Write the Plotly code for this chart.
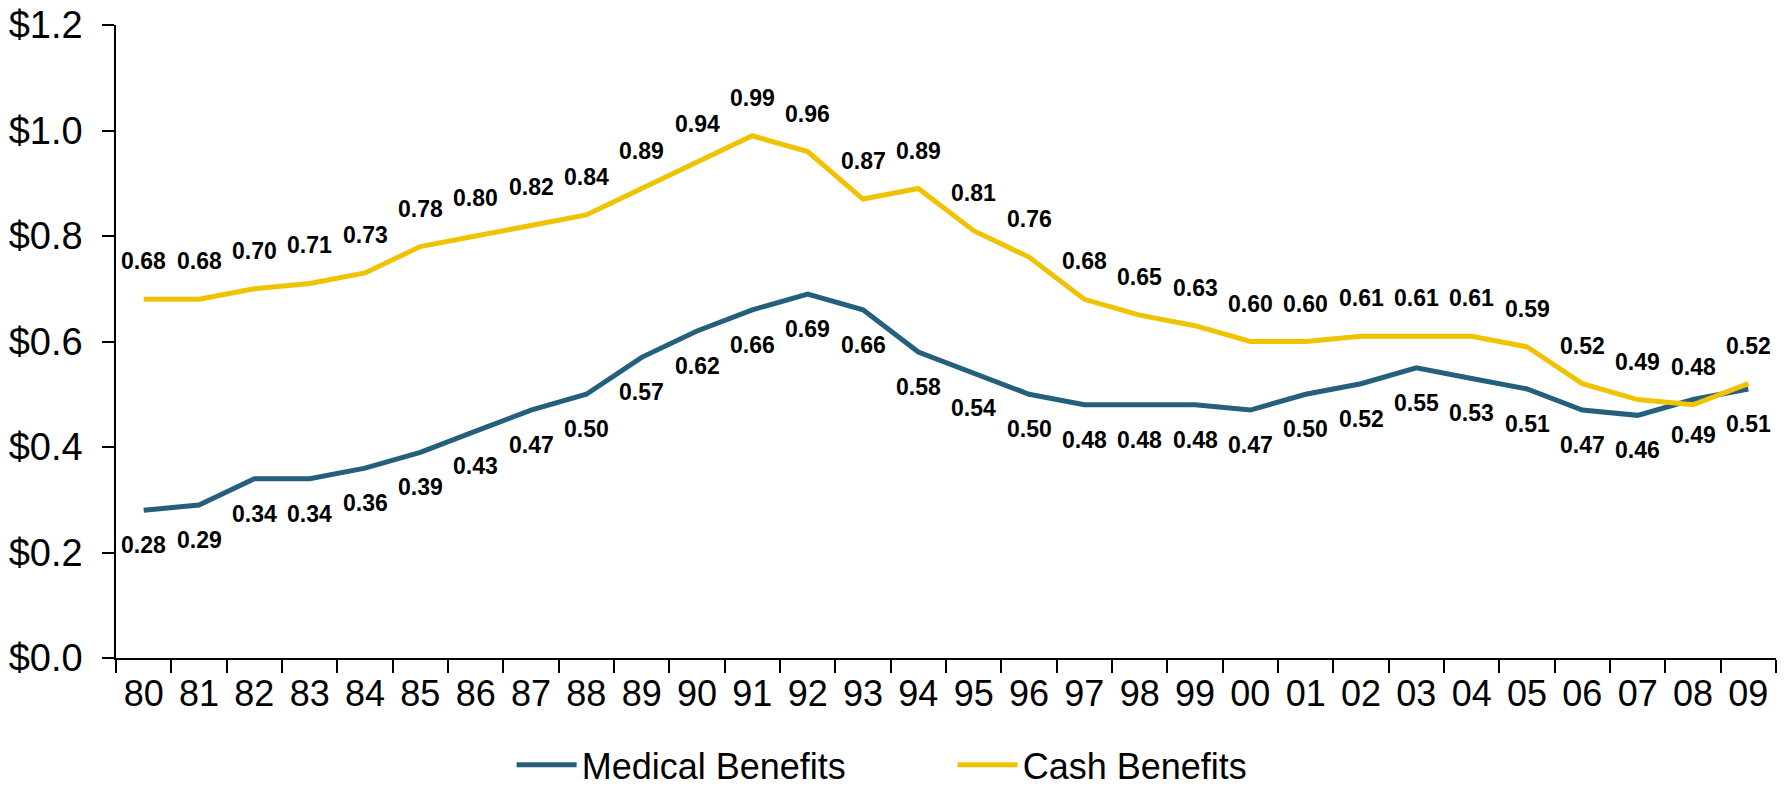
import plotly.graph_objects as go

# Benefit cost per $100 of wages, 1980-2009
years = ["80", "81", "82", "83", "84", "85", "86", "87", "88", "89",
         "90", "91", "92", "93", "94", "95", "96", "97", "98", "99",
         "00", "01", "02", "03", "04", "05", "06", "07", "08", "09"]
medical = [0.28, 0.29, 0.34, 0.34, 0.36, 0.39, 0.43, 0.47, 0.50, 0.57,
           0.62, 0.66, 0.69, 0.66, 0.58, 0.54, 0.50, 0.48, 0.48, 0.48,
           0.47, 0.50, 0.52, 0.55, 0.53, 0.51, 0.47, 0.46, 0.49, 0.51]
cash = [0.68, 0.68, 0.70, 0.71, 0.73, 0.78, 0.80, 0.82, 0.84, 0.89,
        0.94, 0.99, 0.96, 0.87, 0.89, 0.81, 0.76, 0.68, 0.65, 0.63,
        0.60, 0.60, 0.61, 0.61, 0.61, 0.59, 0.52, 0.49, 0.48, 0.52]
y_ticks = [0.0, 0.2, 0.4, 0.6, 0.8, 1.0, 1.2]
y_tick_text = ["$0.0", "$0.2", "$0.4", "$0.6", "$0.8", "$1.0", "$1.2"]

MED_COLOR = "#245F7E"
CASH_COLOR = "#EFC300"
FONT = "Liberation Sans, Arial, sans-serif"

fig = go.Figure()
fig.add_trace(go.Scatter(x=years, y=medical, mode="lines", name="Medical Benefits",
                         line=dict(color=MED_COLOR, width=5)))
fig.add_trace(go.Scatter(x=years, y=cash, mode="lines", name="Cash Benefits",
                         line=dict(color=CASH_COLOR, width=5)))

# value labels: cash above its line, medical below (x given as category index)
label_font = dict(family=FONT, size=23, color="black", weight="bold")
annotations = []
for i, v in enumerate(cash):
    annotations.append(dict(x=i, y=v, xref="x", yref="y", text=f"{v:.2f}",
                            showarrow=False, yshift=38, font=label_font))
for i, v in enumerate(medical):
    annotations.append(dict(x=i, y=v, xref="x", yref="y", text=f"{v:.2f}",
                            showarrow=False, yshift=-35, font=label_font))

fig.update_layout(
    width=1788, height=796,
    margin=dict(l=116, r=12, t=25, b=138, autoexpand=False),
    paper_bgcolor="white", plot_bgcolor="white",
    font=dict(family=FONT, size=36, color="black"),
    showlegend=True,
    legend=dict(orientation="h", x=0.504, xanchor="center", y=-0.216, yanchor="bottom",
                font=dict(size=36), entrywidth=366, itemwidth=60),
    annotations=annotations,
)
fig.update_xaxes(
    type="category", range=[-0.5, 29.5], automargin=False,
    showline=True, linecolor="black", linewidth=2,
    ticks="outside", tickson="boundaries", ticklen=13, tickcolor="black", tickwidth=1.5,
    showgrid=False, zeroline=False, ticklabelstandoff=3,
)
fig.update_yaxes(
    range=[0, 1.2], tickvals=y_ticks, ticktext=y_tick_text, automargin=False,
    tickfont=dict(size=38),
    showline=True, linecolor="black", linewidth=1.5,
    ticks="outside", ticklen=12, tickcolor="black", tickwidth=1.5,
    showgrid=False, zeroline=False, ticklabelstandoff=12,
)

fig.write_html("out.html")
